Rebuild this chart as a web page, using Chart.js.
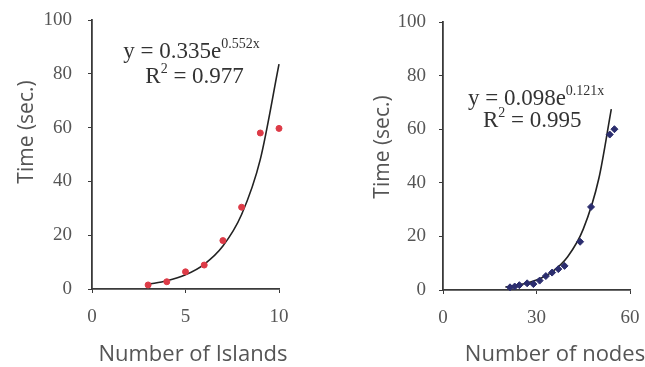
<!DOCTYPE html>
<html>
<head>
<meta charset="utf-8">
<script src="https://cdn.jsdelivr.net/npm/chart.js@4.4.1/dist/chart.umd.min.js"></script>
<style>
    body { margin: 0; background: #fff; }
    .wrap { position: relative; width: 645px; height: 367px; }
    .box { position: absolute; top: 0; height: 367px; }
</style>
</head>
<body>
<div class="wrap">
    <div class="box" style="left:0; width:322px;"><canvas id="islandsChart"></canvas></div>
    <div class="box" style="left:322px; width:323px;"><canvas id="nodesChart"></canvas></div>
</div>
<script>
// left chart: time vs number of islands
const islandsX = [3, 4, 5, 6, 7, 8, 9, 10];
const islandsTime = [1.5, 2.7, 6.4, 8.9, 18, 30.4, 58, 59.7];
const islandsTrendX = [3, 4, 5, 6, 7, 8, 9, 10];
const islandsTrendY = [1.75, 3.05, 5.29, 9.19, 15.97, 27.7, 48.2, 83.6];

// right chart: time vs number of nodes
const nodesX = [21.5, 23, 24.5, 27, 29, 31, 33, 35, 37, 39, 44, 47.5, 53.5, 55];
const nodesTime = [1.0, 1.3, 1.8, 2.5, 2.2, 3.5, 5.2, 6.5, 7.8, 9.0, 18, 31, 58, 60];
const nodesTrendX = [20, 25, 30, 35, 40, 45, 50, 54];
const nodesTrendY = [1.1, 2.02, 3.7, 6.78, 12.4, 22.7, 41.6, 67.5];

const yTicks = [0, 20, 40, 60, 80, 100];

const axisColor = "#3a3a3a";
const tickColor = "#555";
const serif = "'Liberation Serif', 'Times New Roman', serif";
const sans = "'Open Sans', sans-serif";

function toPoints(xs, ys) {
    return xs.map((x, i) => ({ x: x, y: ys[i] }));
}

// fitted equation text (with superscripts) and the two axis titles
const textPlugin = {
    id: "texts",
    afterDatasetsDraw(chart, args, opts) {
        const ctx = chart.ctx;
        const xs = chart.scales.x;
        const ys = chart.scales.y;
        ctx.save();
        ctx.fillStyle = "#333";
        ctx.textBaseline = "alphabetic";
        ctx.textAlign = "left";
        opts.lines.forEach((line) => {
            let px = xs.getPixelForValue(line.x);
            const py = ys.getPixelForValue(line.y);
            line.parts.forEach((part) => {
                ctx.font = (part.sup ? 14 : 23) + "px " + serif;
                ctx.fillText(part.text, px, part.sup ? py - 10 : py);
                px += ctx.measureText(part.text).width;
            });
        });

        ctx.fillStyle = tickColor;
        ctx.font = "22px " + sans;
        ctx.textAlign = "center";
        ctx.textBaseline = "middle";
        ctx.fillText(opts.xTitle.text, opts.xTitle.cx, opts.xTitle.cy);
        ctx.font = "21px " + sans;
        ctx.translate(opts.yTitle.cx, opts.yTitle.cy);
        ctx.rotate(-Math.PI / 2);
        ctx.fillText(opts.yTitle.text, 0, 0);
        ctx.restore();
    },
};

function makeChart(id, cfg) {
    const ctx = document.getElementById(id).getContext("2d");
    return new Chart(ctx, {
        type: "scatter",
        data: {
            datasets: [
                {
                    data: toPoints(cfg.x, cfg.y),
                    pointStyle: cfg.pointStyle,
                    pointRadius: cfg.pointRadius,
                    backgroundColor: cfg.color,
                    borderColor: cfg.color,
                    borderWidth: 1,
                    clip: false,
                },
                {
                    type: "line",
                    data: toPoints(cfg.trendX, cfg.trendY),
                    borderColor: "#222",
                    borderWidth: 1.6,
                    pointRadius: 0,
                    fill: false,
                    clip: false,
                    cubicInterpolationMode: "monotone",
                },
            ],
        },
        options: {
            responsive: true,
            maintainAspectRatio: false,
            animation: false,
            layout: {
                padding: { top: cfg.top, right: cfg.right, left: 0, bottom: 0 },
            },
            scales: {
                x: {
                    type: "linear",
                    min: 0,
                    max: cfg.xMax,
                    afterBuildTicks: (scale) => {
                        scale.ticks = cfg.xTicks.map((v) => ({ value: v }));
                    },
                    afterFit: (scale) => {
                        scale.height = 367 - cfg.bottom;
                        scale.paddingRight = 0; // let layout padding alone set the right edge
                    },
                    grid: {
                        drawOnChartArea: false,
                        drawTicks: true,
                        tickLength: 4,
                        color: axisColor,
                    },
                    border: { color: axisColor, width: 1.8 },
                    ticks: {
                        color: tickColor,
                        padding: 13,
                        font: { family: serif, size: 19 },
                    },
                },
                y: {
                    min: 0,
                    max: 100,
                    afterBuildTicks: (scale) => {
                        scale.ticks = yTicks.map((v) => ({ value: v }));
                    },
                    afterFit: (scale) => {
                        scale.width = cfg.left;
                        scale.paddingTop = 0;
                        scale.paddingBottom = 0;
                    },
                    grid: {
                        drawOnChartArea: false,
                        drawTicks: true,
                        tickLength: 4,
                        color: axisColor,
                    },
                    border: { color: axisColor, width: 1.8 },
                    ticks: {
                        color: tickColor,
                        padding: cfg.yTickPad,
                        font: { family: serif, size: 19 },
                    },
                },
            },
            plugins: {
                legend: { display: false },
                tooltip: { enabled: false },
                texts: {
                    lines: cfg.equation,
                    xTitle: cfg.xTitle,
                    yTitle: cfg.yTitle,
                },
            },
        },
        plugins: [textPlugin],
    });
}

document.addEventListener("DOMContentLoaded", () => {
    makeChart("islandsChart", {
        x: islandsX,
        y: islandsTime,
        trendX: islandsTrendX,
        trendY: islandsTrendY,
        color: "#dd3b47",
        pointStyle: "circle",
        pointRadius: 3,
        xMax: 10,
        xTicks: [0, 5, 10],
        xTitle: { text: "Number of Islands", cx: 193, cy: 355 },
        yTitle: { text: "Time (sec.)", cx: 27, cy: 132 },
        left: 92,
        right: 43,
        top: 20,
        bottom: 289,
        yTickPad: 16,
        equation: [
            { x: 1.67, y: 86, parts: [{ text: "y = 0.335e" }, { text: "0.552x", sup: true }] },
            { x: 2.85, y: 76.5, parts: [{ text: "R" }, { text: "2", sup: true }, { text: " = 0.977" }] },
        ],
    });

    makeChart("nodesChart", {
        x: nodesX,
        y: nodesTime,
        trendX: nodesTrendX,
        trendY: nodesTrendY,
        color: "#2b2d6e",
        pointStyle: "rectRot",
        pointRadius: 3.5,
        xMax: 60,
        xTicks: [0, 30, 60],
        xTitle: { text: "Number of nodes", cx: 233, cy: 355 },
        yTitle: { text: "Time (sec.)", cx: 61, cy: 147 },
        left: 121,
        right: 15,
        top: 22,
        bottom: 290,
        yTickPad: 13,
        equation: [
            { x: 8.0, y: 69, parts: [{ text: "y = 0.098e" }, { text: "0.121x", sup: true }] },
            { x: 12.8, y: 60.8, parts: [{ text: "R" }, { text: "2", sup: true }, { text: " = 0.995" }] },
        ],
    });
});
</script>
</body>
</html>
